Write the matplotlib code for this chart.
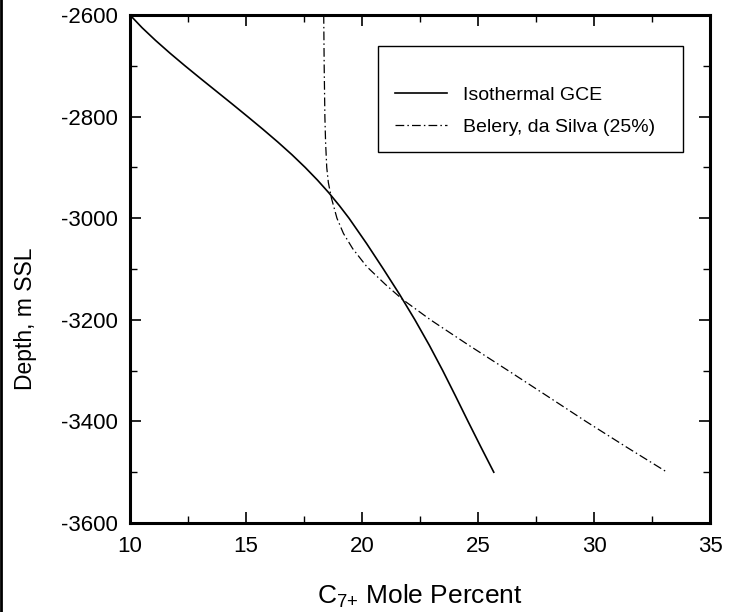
import matplotlib
matplotlib.use("Agg")
import matplotlib.pyplot as plt
from matplotlib.patches import Rectangle
from matplotlib.lines import Line2D
from matplotlib.ticker import MultipleLocator

plt.rcParams['font.family'] = ['Liberation Sans', 'DejaVu Sans']
plt.rcParams['axes.unicode_minus'] = False
plt.rcParams['mathtext.fontset'] = 'custom'
plt.rcParams['mathtext.rm'] = 'Liberation Sans'
plt.rcParams['mathtext.it'] = 'Liberation Sans'

# Isothermal gravity/chemical equilibrium profile
iso_depth = [-2600, -2625, -2650, -2675, -2700, -2725, -2750, -2775, -2800,
             -2825, -2850, -2875, -2900, -2925, -2950, -2975, -3000,
             -3050, -3100, -3150, -3200, -3250, -3300, -3350, -3400,
             -3450, -3500]
iso_c7 = [10.0, 10.52, 11.1, 11.72, 12.37, 13.04, 13.72, 14.4, 15.07,
          15.73, 16.37, 16.98, 17.55, 18.08, 18.57, 19.02, 19.44,
          20.2, 20.92, 21.62, 22.28, 22.9, 23.48, 24.03, 24.57,
          25.12, 25.68]

# Belery & da Silva model (25%)
bel_depth = [-2600, -2700, -2800, -2850, -2900, -2930, -2960, -3000, -3030,
             -3060, -3095, -3130, -3160, -3200, -3250, -3300, -3350, -3400,
             -3450, -3500]
bel_c7 = [18.35, 18.37, 18.40, 18.43, 18.48, 18.55, 18.68, 18.92, 19.2,
          19.6, 20.2, 21.0, 21.75, 22.95, 24.6, 26.3, 27.98, 29.65,
          31.38, 33.15]

series_labels = ["Isothermal GCE", "Belery, da Silva (25%)"]
x_label = r"C$_{\mathregular{7{+}}}$ Mole Percent"
y_label = "Depth, m SSL"

fig = plt.figure(figsize=(7.42, 6.12), dpi=100)
ax = fig.add_axes([130 / 742, 89 / 612, 580 / 742, 508 / 612])

dash = (7, 2.5, 1.2, 2.5)
ax.plot(iso_c7, iso_depth, color='black', lw=1.2)
l2, = ax.plot(bel_c7, bel_depth, color='black', lw=0.9)
l2.set_dashes(dash)

ax.set_xlim(10, 35)
ax.set_ylim(-3600, -2600)
ax.xaxis.set_major_locator(MultipleLocator(5))
ax.xaxis.set_minor_locator(MultipleLocator(2.5))
ax.yaxis.set_major_locator(MultipleLocator(200))
ax.yaxis.set_minor_locator(MultipleLocator(100))
ax.tick_params(which='both', direction='in', top=True, right=True,
               labelsize=16, pad=9, color='black', labelcolor='black')
ax.tick_params(which='major', length=8, width=1.2)
ax.tick_params(which='minor', length=5, width=1.0)
for s in ax.spines.values():
    s.set_linewidth(2.2)

ax.set_xlabel(x_label, fontsize=19)
ax.xaxis.label.set_va('baseline')
ax.xaxis.set_label_coords(0.5, (523 - 604) / 508)

ax.set_ylabel(y_label, fontsize=16.5)
ax.yaxis.label.set_va('baseline')
ax.yaxis.set_label_coords((32 - 130) / 580, (523 - 319) / 508)

# legend frame
frame = Rectangle((0.4276, 0.730), 0.5258, 0.209, transform=ax.transAxes,
                  fill=False, lw=1.0, edgecolor='black', zorder=5)
ax.add_patch(frame)
h1 = Line2D([], [], color='black', lw=1.2)
h2 = Line2D([], [], color='black', lw=0.9)
h2.set_dashes(dash)
ax.legend([h1, h2], series_labels, loc='upper left',
          bbox_to_anchor=((395 - 130) / 580, (523 - 86) / 508),
          frameon=False, fontsize=14, handlelength=2.7, handletextpad=0.8,
          labelspacing=0.75, borderpad=0, borderaxespad=0)

# left edge bar
fig.add_artist(Line2D([1.3 / 742, 1.3 / 742], [0, 1], transform=fig.transFigure,
                      color='black', lw=2.0))

fig.savefig("out.png", dpi=100)
